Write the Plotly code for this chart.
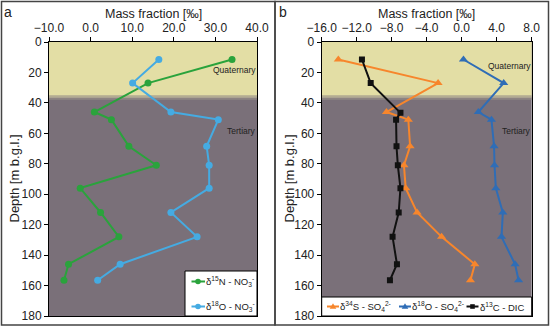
import plotly.graph_objects as go
from plotly.subplots import make_subplots

# Panel a data
depth_a = [11.5, 27, 46, 51, 68.5, 81, 96, 112, 128, 146, 156.5]
d15N_NO3 = [34.0, 13.8, 0.9, 5.0, 9.2, 15.8, -2.5, 2.4, 6.8, -5.3, -6.4]
d18O_NO3 = [16.4, 10.1, 19.3, 30.7, 27.9, 28.5, 28.5, 19.3, 25.6, 7.1, 1.7]

# Panel b data
depth_b = [11.5, 27, 46, 51, 68.5, 81, 96, 112, 128, 146, 156.5]
d34S_SO4 = [-14.1, -2.7, -8.6, -6.1, -5.9, -6.6, -6.4, -5.1, -2.3, 1.5, 1.0]
d18O_SO4 = [0.2, 4.8, 1.9, 3.4, 3.7, 3.75, 3.9, 4.7, 4.55, 6.1, 6.5]
depth_c = [11.5, 27, 46.5, 51, 68.5, 81, 96, 112, 128, 146, 156.5]
d13C_DIC = [-11.4, -10.4, -7.0, -7.5, -7.45, -7.3, -7.0, -7.2, -7.9, -7.4, -8.2]

xticks_a = [-10, 0, 10, 20, 30, 40]
xticks_b = [-16, -12, -8, -4, 0, 4, 8]
yticks = [0, 20, 40, 60, 80, 100, 120, 140, 160, 180]

names_a = ["δ<sup>15</sup>N - NO<sub>3</sub><sup>-</sup>", "δ<sup>18</sup>O - NO<sub>3</sub><sup>-</sup>"]
names_b = ["δ<sup>34</sup>S - SO<sub>4</sub><sup>2-</sup>", "δ<sup>18</sup>O - SO<sub>4</sub><sup>2-</sup>",
           "δ<sup>13</sup>C - DIC"]

W, H = 550, 329
FONT = "Liberation Sans, Arial, sans-serif"
TXT = "#222222"


def px(x):
    return x / W


def py(y):
    return 1 - y / H


GREEN = "#2aa33c"
LBLUE = "#45abe2"
ORANGE = "#f7862c"
DBLUE = "#2f6db6"
BLACK = "#111111"

fig = make_subplots(rows=1, cols=2)

fig.add_trace(go.Scatter(x=d15N_NO3, y=depth_a, mode="lines+markers", name=names_a[0],
                         line=dict(color=GREEN, width=2), marker=dict(color=GREEN, size=7)), row=1, col=1)
fig.add_trace(go.Scatter(x=d18O_NO3, y=depth_a, mode="lines+markers", name=names_a[1],
                         line=dict(color=LBLUE, width=2), marker=dict(color=LBLUE, size=7)), row=1, col=1)
fig.add_trace(go.Scatter(x=d34S_SO4, y=depth_b, mode="lines+markers", name=names_b[0],
                         line=dict(color=ORANGE, width=2),
                         marker=dict(color=ORANGE, size=8, symbol="triangle-up")), row=1, col=2)
fig.add_trace(go.Scatter(x=d18O_SO4, y=depth_b, mode="lines+markers", name=names_b[1],
                         line=dict(color=DBLUE, width=2),
                         marker=dict(color=DBLUE, size=8, symbol="triangle-up")), row=1, col=2)
fig.add_trace(go.Scatter(x=d13C_DIC, y=depth_c, mode="lines+markers", name=names_b[2],
                         line=dict(color=BLACK, width=2),
                         marker=dict(color=BLACK, size=6, symbol="square")), row=1, col=2)

ytop = py(42)
ybot = py(316)
xa = [px(49), px(257)]
xb = [px(321.7), px(531.7)]

axis_common = dict(showline=True, linecolor="black", linewidth=1, mirror=True,
                   ticks="outside", ticklen=4, tickcolor="black", showgrid=False, zeroline=False,
                   automargin=False, tickfont=dict(family=FONT, size=12, color=TXT))

fig.update_layout(
    xaxis=dict(domain=xa, range=[-10, 40], side="top", tickvals=xticks_a, tickformat=".1f", **axis_common),
    xaxis2=dict(domain=xb, range=[-16, 8], side="top", tickvals=xticks_b, tickformat=".1f", **axis_common),
    yaxis=dict(domain=[ybot, ytop], range=[180, 0], tickvals=yticks, anchor="x", **axis_common),
    yaxis2=dict(domain=[ybot, ytop], range=[180, 0], tickvals=yticks, anchor="x2", **axis_common),
    width=W, height=H, margin=dict(l=0, r=0, t=0, b=0, autoexpand=False),
    paper_bgcolor="white", plot_bgcolor="#7a7079",
    showlegend=False,
)

shapes = []
# Background bands (Quaternary / Tertiary)
for xr, yr in (("x", "y"), ("x2", "y2")):
    shapes.append(dict(type="rect", xref=f"{xr} domain", yref=yr, x0=0, x1=1, y0=0, y1=35,
                       fillcolor="#e3dea5", line=dict(width=0), layer="below"))
    for i, c in enumerate(["#cbc59c", "#aba391", "#8f8784"]):
        shapes.append(dict(type="rect", xref=f"{xr} domain", yref=yr, x0=0, x1=1,
                           y0=35 + i, y1=36 + i, fillcolor=c, line=dict(width=0), layer="below"))

# Panel frames
shapes.append(dict(type="rect", xref="paper", yref="paper", x0=px(1.5), x1=px(275),
                   y0=py(325), y1=py(1.5), line=dict(color="#444", width=1.5)))
shapes.append(dict(type="rect", xref="paper", yref="paper", x0=px(275), x1=px(548.5),
                   y0=py(325), y1=py(1.5), line=dict(color="#444", width=1.5)))


def legend_box(x0, y0, x1, y1):
    shapes.append(dict(type="rect", xref="paper", yref="paper", x0=px(x0), x1=px(x1),
                       y0=py(y1), y1=py(y0), fillcolor="white", line=dict(color="black", width=1),
                       layer="above"))


def legend_line(x0, x1, y, color):
    shapes.append(dict(type="line", xref="paper", yref="paper", x0=px(x0), x1=px(x1),
                       y0=py(y), y1=py(y), line=dict(color=color, width=2), layer="above"))


def legend_marker(cx, cy, kind, color, r=3):
    if kind == "circle":
        shapes.append(dict(type="circle", xref="paper", yref="paper", x0=px(cx - r), x1=px(cx + r),
                           y0=py(cy + r), y1=py(cy - r), fillcolor=color, line=dict(width=0),
                           layer="above"))
    elif kind == "square":
        shapes.append(dict(type="rect", xref="paper", yref="paper", x0=px(cx - r + 0.5), x1=px(cx + r - 0.5),
                           y0=py(cy + r - 0.5), y1=py(cy - r + 0.5), fillcolor=color, line=dict(width=0),
                           layer="above"))
    else:
        path = "M {},{} L {},{} L {},{} Z".format(px(cx), py(cy - r - 0.5), px(cx - r - 0.5), py(cy + r - 0.5),
                                                   px(cx + r + 0.5), py(cy + r - 0.5))
        shapes.append(dict(type="path", xref="paper", yref="paper", path=path, fillcolor=color,
                           line=dict(width=0), layer="above"))


ann = []


def legend_text(x, y, text):
    ann.append(dict(text=text, x=px(x), y=py(y), xref="paper", yref="paper", showarrow=False,
                    xanchor="left", yanchor="middle", font=dict(family=FONT, size=9.5, color=TXT)))


# Legend a
legend_box(185, 271, 257, 316)
for (yy, col, nm) in ((281.5, GREEN, names_a[0]), (306.5, LBLUE, names_a[1])):
    legend_line(191.5, 205, yy, col)
    legend_marker(198, yy, "circle", col, r=2.8)
    legend_text(204, yy, nm)

# Legend b
legend_box(321.7, 297, 531.7, 316)
for (x0, col, kind, nm) in ((327, ORANGE, "tri", names_b[0]), (399, DBLUE, "tri", names_b[1]),
                            (466.5, BLACK, "square", names_b[2])):
    legend_line(x0, x0 + 12, 306.5, col)
    legend_marker(x0 + 6, 306.5, kind, col, r=2.8)
    legend_text(x0 + 11, 306.5, nm)

fig.update_layout(shapes=shapes)

# Axis titles
for cx, cy in ((153, 14), (426.7, 14)):
    ann.append(dict(text="Mass fraction [‰]", x=px(cx), y=py(cy), xref="paper", yref="paper",
                    showarrow=False, xanchor="center", yanchor="middle",
                    font=dict(family=FONT, size=12.5, color=TXT)))
for cx in (13.5, 288.5):
    ann.append(dict(text="Depth [m b.g.l.]", x=px(cx), y=py(179), xref="paper", yref="paper",
                    showarrow=False, xanchor="center", yanchor="middle", textangle=-90,
                    font=dict(family=FONT, size=13, color=TXT)))

# Panel labels
ann.append(dict(text="a", x=px(8), y=py(12), xref="paper", yref="paper", showarrow=False,
                font=dict(family=FONT, size=14, color=TXT), xanchor="center", yanchor="middle"))
ann.append(dict(text="b", x=px(283), y=py(12), xref="paper", yref="paper", showarrow=False,
                font=dict(family=FONT, size=14, color=TXT), xanchor="center", yanchor="middle"))

# Unit labels
for xq, xt in ((234.5, 241), (509, 516)):
    ann.append(dict(text="Quaternary", x=px(xq), y=py(70 if xq < 300 else 65.5), xref="paper", yref="paper",
                    showarrow=False, font=dict(family=FONT, size=8.5, color=TXT),
                    xanchor="center", yanchor="middle"))
    ann.append(dict(text="Tertiary", x=px(xt), y=py(130.7), xref="paper", yref="paper", showarrow=False,
                    font=dict(family=FONT, size=8.5, color=TXT), xanchor="center", yanchor="middle"))

fig.update_layout(annotations=ann)

fig.write_html("out.html", config={"displayModeBar": False},
               post_script="document.body.style.margin='0';document.body.style.overflow='hidden';")
